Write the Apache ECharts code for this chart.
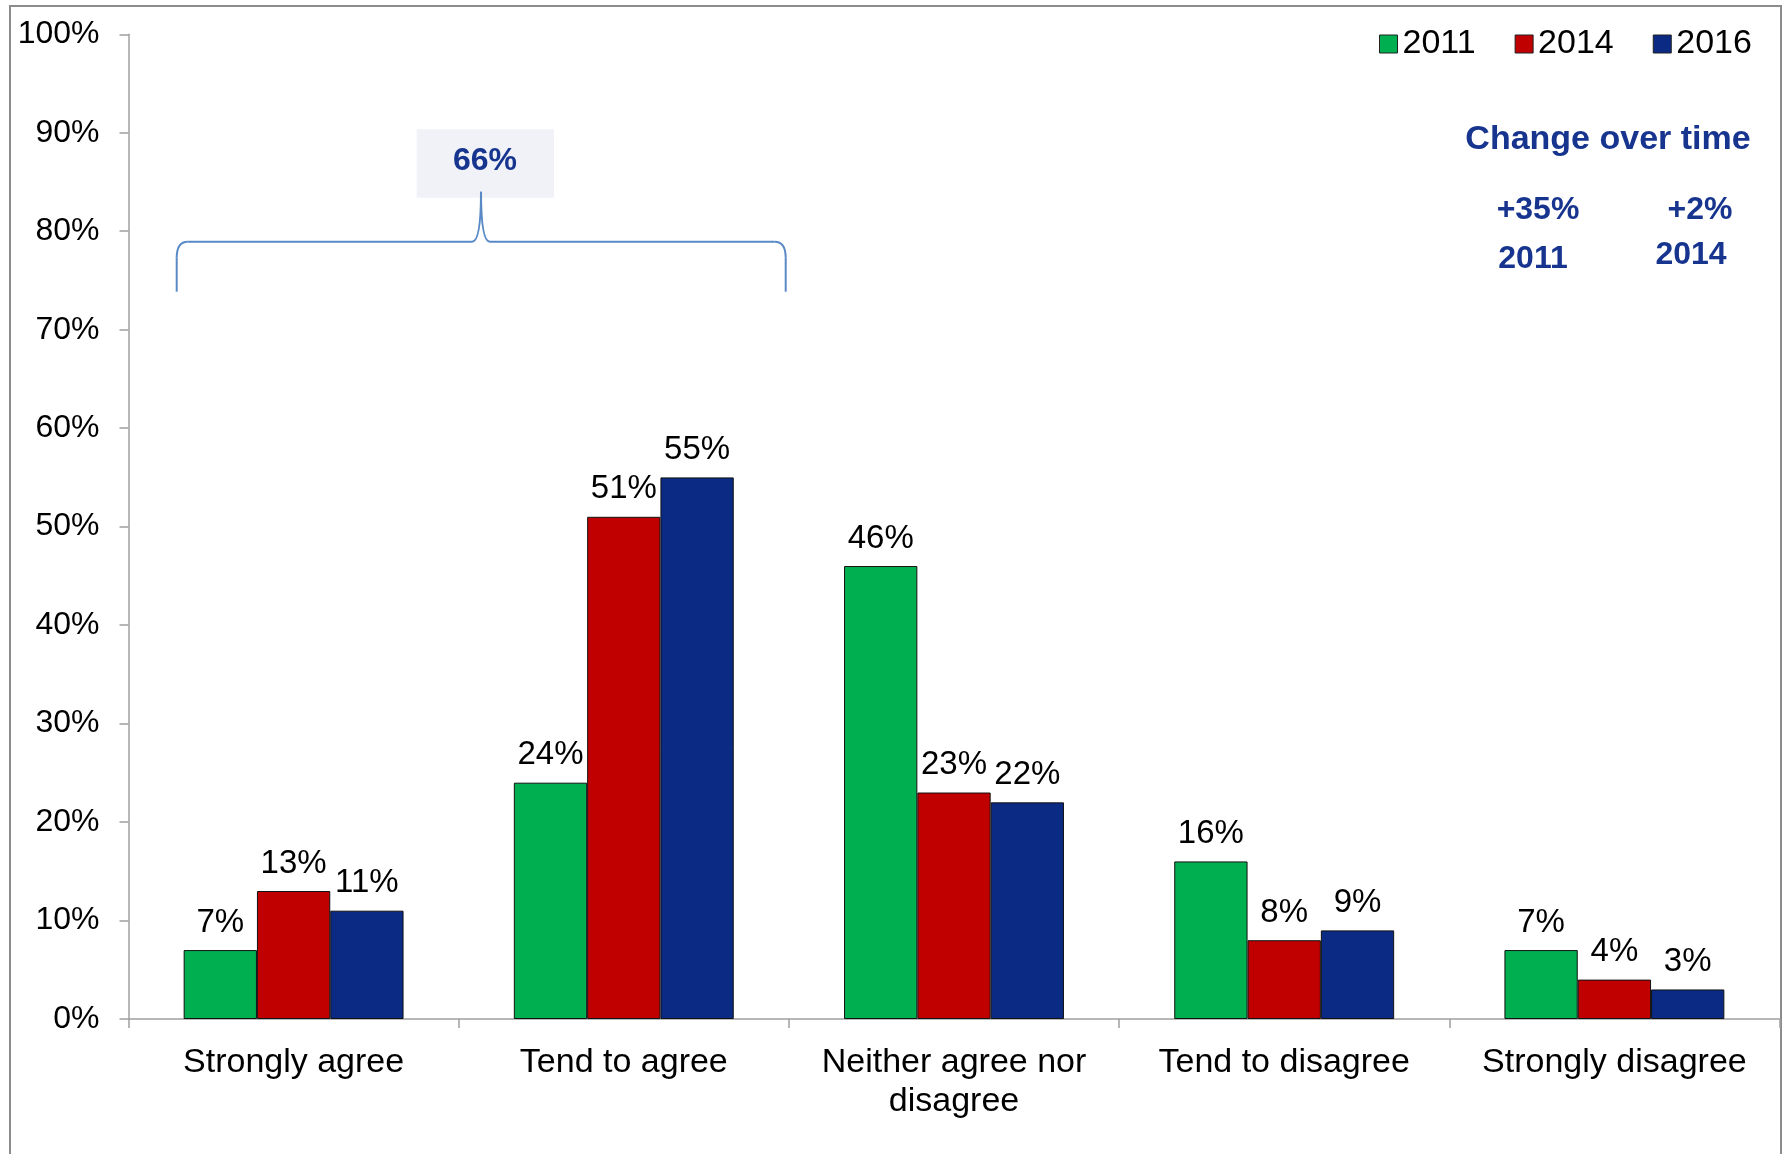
<!DOCTYPE html>
<html>
<head>
<meta charset="utf-8">
<title>Agreement over time</title>
<script src="https://cdn.jsdelivr.net/npm/echarts@6/dist/echarts.min.js"></script>
<style>
  html, body { margin: 0; padding: 0; background: #ffffff; }
  #chart { width: 1785px; height: 1154px; }
</style>
</head>
<body>
<div id="chart"></div>
<script>
// Response categories (x axis)
const categories = [
  'Strongly agree',
  'Tend to agree',
  'Neither agree nor\ndisagree',
  'Tend to disagree',
  'Strongly disagree'
];

// Survey waves
const years = ['2011', '2014', '2016'];

// Share of respondents (%) per category, one array per wave
const values2011 = [7, 24, 46, 16, 7];
const values2014 = [13, 51, 23, 8, 4];
const values2016 = [11, 55, 22, 9, 3];

// Y axis ticks (%)
const yTicks = { min: 0, max: 100, step: 10 };

// Net agreement and change notes
const netAgree = '66%';
const changeTitle = 'Change over time';
const changeValues = ['+35%', '+2%'];
const changeSince = ['2011', '2014'];

const colors = ['#00B050', '#C00000', '#0A2A84'];
const noteColor = '#17358E';
const braceColor = '#5A8AC6';
const font = "'Liberation Sans', Arial, sans-serif";

const chart = echarts.init(document.getElementById('chart'), null, { renderer: 'canvas' });

function barSeries(name, data, color) {
  return {
    name: name,
    type: 'bar',
    data: data,
    barGap: '0%',
    barCategoryGap: '33.4%',
    itemStyle: { color: color, borderColor: '#111', borderWidth: 1 },
    label: {
      show: true,
      position: 'top',
      distance: 11,
      formatter: '{c}%',
      color: '#000',
      fontFamily: font,
      fontSize: 33
    }
  };
}

// Curly brace over the two "agree" categories
const bx1 = 176.7, bx2 = 785.7, bmid = 481, by = 241.7, bEnd = 291.7, bPeak = 191.7;
const braceStyle = { stroke: braceColor, lineWidth: 2, fill: null };
const brace = [
  { type: 'line', shape: { x1: bx1, y1: bEnd, x2: bx1, y2: by + 16 }, style: braceStyle },
  { type: 'bezierCurve', shape: { x1: bx1, y1: by + 16, cpx1: bx1, cpy1: by, x2: bx1 + 11, y2: by }, style: braceStyle },
  { type: 'line', shape: { x1: bx1 + 11, y1: by, x2: bmid - 9, y2: by }, style: braceStyle },
  { type: 'bezierCurve', shape: { x1: bmid - 9, y1: by, cpx1: bmid, cpy1: by, x2: bmid, y2: bPeak }, style: braceStyle },
  { type: 'bezierCurve', shape: { x1: bmid, y1: bPeak, cpx1: bmid, cpy1: by, x2: bmid + 9, y2: by }, style: braceStyle },
  { type: 'line', shape: { x1: bmid + 9, y1: by, x2: bx2 - 11, y2: by }, style: braceStyle },
  { type: 'bezierCurve', shape: { x1: bx2 - 11, y1: by, cpx1: bx2, cpy1: by, x2: bx2, y2: by + 16 }, style: braceStyle },
  { type: 'line', shape: { x1: bx2, y1: by + 16, x2: bx2, y2: bEnd }, style: braceStyle }
];

const noteText = (text, x, y, size) => ({
  type: 'text',
  x: x, y: y,
  style: {
    text: text,
    fill: noteColor,
    font: 'bold ' + size + 'px ' + font,
    textAlign: 'center',
    textVerticalAlign: 'middle'
  }
});

chart.setOption({
  animation: false,
  backgroundColor: '#ffffff',
  textStyle: { fontFamily: font },
  color: colors,
  grid: { left: 128.5, top: 34.3, width: 1651, height: 984.7, containLabel: false },
  legend: {
    data: years,
    left: 1374,
    top: 22,
    icon: 'rect',
    itemWidth: 18,
    itemHeight: 18,
    itemGap: 39,
    itemStyle: { borderColor: '#222', borderWidth: 1 },
    textStyle: { color: '#000', fontSize: 34, fontFamily: font }
  },
  xAxis: {
    type: 'category',
    data: categories,
    axisLine: { lineStyle: { color: '#A0A0A0', width: 1.5 } },
    axisTick: { show: true, length: 9, lineStyle: { color: '#A0A0A0', width: 1.5 } },
    axisLabel: {
      color: '#000',
      fontSize: 34,
      lineHeight: 39,
      margin: 24,
      interval: 0,
      fontFamily: font
    }
  },
  yAxis: {
    type: 'value',
    min: yTicks.min,
    max: yTicks.max,
    interval: yTicks.step,
    axisLine: { show: true, lineStyle: { color: '#A0A0A0', width: 1.5 } },
    axisTick: { show: true, length: 9, lineStyle: { color: '#A0A0A0', width: 1.5 } },
    splitLine: { show: false },
    axisLabel: {
      formatter: '{value}%',
      color: '#000',
      fontSize: 32,
      margin: 29,
      fontFamily: font
    }
  },
  series: [
    barSeries(years[0], values2011, colors[0]),
    barSeries(years[1], values2014, colors[1]),
    barSeries(years[2], values2016, colors[2])
  ],
  graphic: [
    // outer frame
    {
      type: 'rect',
      shape: { x: 10, y: 6, width: 1771, height: 1170 },
      style: { fill: null, stroke: '#8C8C8C', lineWidth: 2 },
      silent: true
    },
    // net agreement box
    {
      type: 'rect',
      shape: { x: 416.7, y: 129.3, width: 137.3, height: 68.4 },
      style: { fill: '#F0F2F8', stroke: null }
    },
    noteText(netAgree, 485, 161, 32),
    ...brace,
    noteText(changeTitle, 1608, 139.5, 34),
    noteText(changeValues[0], 1538, 210.5, 32),
    noteText(changeValues[1], 1700, 210.5, 32),
    noteText(changeSince[0], 1533, 259.5, 32),
    noteText(changeSince[1], 1691, 255.5, 32)
  ]
});
</script>
</body>
</html>
